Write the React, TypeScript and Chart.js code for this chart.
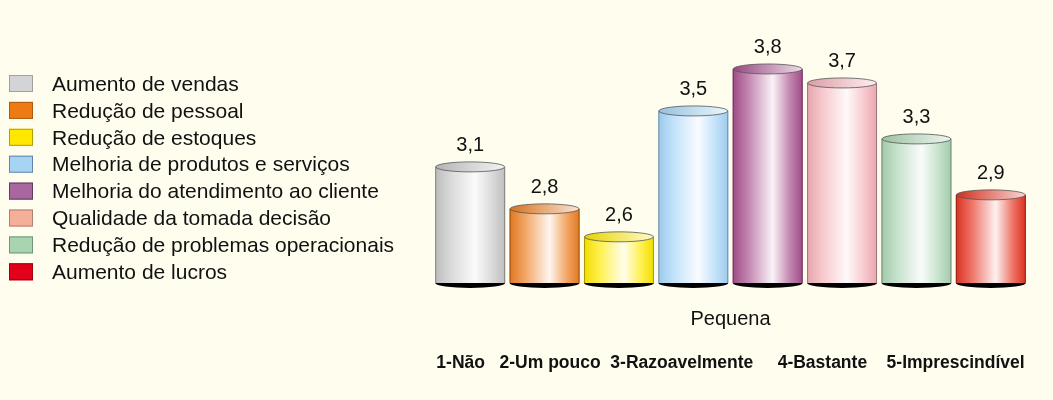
import { useEffect, useRef } from "react";
import { Chart, registerables } from "chart.js";

Chart.register(...registerables);

const FONT = '"Liberation Sans", Arial, Helvetica, sans-serif';
const BG = "#FFFDEE";

const categories = ["Pequena"];
const seriesNames = [
  "Aumento de vendas",
  "Redução de pessoal",
  "Redução de estoques",
  "Melhoria de produtos e serviços",
  "Melhoria do atendimento ao cliente",
  "Qualidade da tomada decisão",
  "Redução de problemas operacionais",
  "Aumento de lucros",
];
const seriesValues = [3.1, 2.8, 2.6, 3.5, 3.8, 3.7, 3.3, 2.9];
const legendColors = ["#D4D4D6", "#EE7A14", "#FFE800", "#A8D4F4", "#A8679E", "#F5AE98", "#A8D4B0", "#E2001A"];
const legendBorders = ["#A0A0A0", "#B05A10", "#B0A000", "#5F86A8", "#5E3E5A", "#B08070", "#6F9878", "#A00010"];
const barColors = ["#C8C8C8", "#EC7F22", "#FFEA00", "#A6D6F8", "#A8508E", "#F4B0B8", "#ACD6B4", "#E63422"];
const scaleNote = "1-Não   2-Um pouco  3-Razoavelmente     4-Bastante    5-Imprescindível";
const yMin = 2.27;
const yMax = 4.15;

type RGB = [number, number, number];
const WHITE: RGB = [255, 255, 255];
const BLACK: RGB = [0, 0, 0];
function hexToRgb(h: string): RGB {
  const n = parseInt(h.slice(1), 16);
  return [(n >> 16) & 255, (n >> 8) & 255, n & 255];
}
function mix(h: string, target: RGB, t: number): string {
  const c = hexToRgb(h);
  return `rgb(${c.map((v, i) => Math.round(v + (target[i] - v) * t)).join(",")})`;
}
function formatValue(v: number): string {
  return v.toFixed(1).replace(".", ",");
}

const backgroundPlugin = {
  id: "pageBackground",
  beforeDraw(chart: any) {
    const ctx = chart.ctx;
    ctx.save();
    ctx.fillStyle = BG;
    ctx.fillRect(0, 0, chart.width, chart.height);
    ctx.restore();
  },
};

const cylinderPlugin = {
  id: "cylinders",
  afterDatasetsDraw(chart: any) {
    const ctx = chart.ctx;
    chart.data.datasets.forEach((ds: any, i: number) => {
      const meta = chart.getDatasetMeta(i);
      if (meta.hidden) return;
      meta.data.forEach((el: any, j: number) => {
        const { x, y, base, width } = el.getProps(["x", "y", "base", "width"], true);
        const rx = width / 2;
        const ry = 5;
        const left = x - rx;
        const right = x + rx;
        const col = barColors[i];
        ctx.save();
        // bottom shadow
        ctx.beginPath();
        ctx.ellipse(x, base, rx, ry, 0, 0, Math.PI);
        ctx.fillStyle = "#000";
        ctx.fill();
        // body
        const g = ctx.createLinearGradient(left, 0, right, 0);
        g.addColorStop(0, mix(col, BLACK, 0.06));
        g.addColorStop(0.22, mix(col, WHITE, 0.3));
        g.addColorStop(0.57, mix(col, WHITE, 0.93));
        g.addColorStop(0.82, mix(col, WHITE, 0.3));
        g.addColorStop(1, mix(col, BLACK, 0.05));
        ctx.fillStyle = g;
        ctx.fillRect(left, y, width, base - y);
        // side edges
        ctx.strokeStyle = mix(col, BLACK, 0.35);
        ctx.lineWidth = 1;
        ctx.beginPath();
        ctx.moveTo(left + 0.5, y);
        ctx.lineTo(left + 0.5, base);
        ctx.moveTo(right - 0.5, y);
        ctx.lineTo(right - 0.5, base);
        ctx.stroke();
        // top ellipse
        const tg = ctx.createLinearGradient(left, 0, right, 0);
        tg.addColorStop(0, mix(col, BLACK, 0.1));
        tg.addColorStop(1, mix(col, WHITE, 0.8));
        ctx.beginPath();
        ctx.ellipse(x, y, rx - 0.5, ry, 0, 0, Math.PI * 2);
        ctx.fillStyle = tg;
        ctx.fill();
        ctx.strokeStyle = "#555";
        ctx.lineWidth = 0.8;
        ctx.stroke();
        // value label
        ctx.fillStyle = "#111";
        ctx.font = `20px ${FONT}`;
        ctx.textAlign = "center";
        ctx.textBaseline = "alphabetic";
        ctx.fillText(formatValue(ds.data[j]), x, y - ry - 11);
        ctx.restore();
      });
    });
  },
};

const sideLegendPlugin = {
  id: "sideLegend",
  afterDraw(chart: any) {
    const ctx = chart.ctx;
    ctx.save();
    ctx.font = `21px ${FONT}`;
    ctx.textBaseline = "middle";
    ctx.textAlign = "left";
    chart.data.datasets.forEach((ds: any, i: number) => {
      const top = 75 + i * 26.9;
      ctx.fillStyle = legendColors[i];
      ctx.fillRect(9, top, 24, 17);
      ctx.strokeStyle = legendBorders[i];
      ctx.lineWidth = 1;
      ctx.strokeRect(9.5, top + 0.5, 23, 16);
      ctx.fillStyle = "#111";
      ctx.fillText(ds.label, 52, top + 10);
    });
    ctx.restore();
  },
};

export default function App() {
  const canvasRef = useRef<HTMLCanvasElement | null>(null);

  useEffect(() => {
    document.body.style.margin = "0";
    document.body.style.background = BG;
    const canvas = canvasRef.current;
    if (!canvas) return;
    const chart = new Chart(canvas, {
      type: "bar",
      data: {
        labels: categories,
        datasets: seriesNames.map((name, i) => ({
          label: name,
          data: [seriesValues[i]],
          base: yMin,
          backgroundColor: "rgba(0,0,0,0)",
          borderWidth: 0,
          categoryPercentage: 1,
          barPercentage: 0.94,
        })),
      },
      options: {
        animation: false,
        responsive: true,
        maintainAspectRatio: false,
        layout: { padding: { left: 433, right: 25, top: 20, bottom: 26.5 } },
        plugins: {
          legend: { display: false },
          tooltip: { enabled: false },
        },
        scales: {
          x: {
            grid: { display: false, drawTicks: false },
            border: { display: false },
            ticks: { font: { size: 20, family: FONT }, color: "#111", padding: 24 },
            title: {
              display: true,
              text: scaleNote,
              color: "#111",
              font: { size: 17.5, weight: "bold", family: FONT },
              padding: { top: -2.5, bottom: 0 },
            },
          },
          y: { display: false, min: yMin, max: yMax },
        },
      },
      plugins: [backgroundPlugin, cylinderPlugin, sideLegendPlugin],
    } as any);
    return () => chart.destroy();
  }, []);

  return (
    <div style={{ width: 1053, height: 400, position: "relative", background: BG }}>
      <canvas ref={canvasRef} />
    </div>
  );
}
